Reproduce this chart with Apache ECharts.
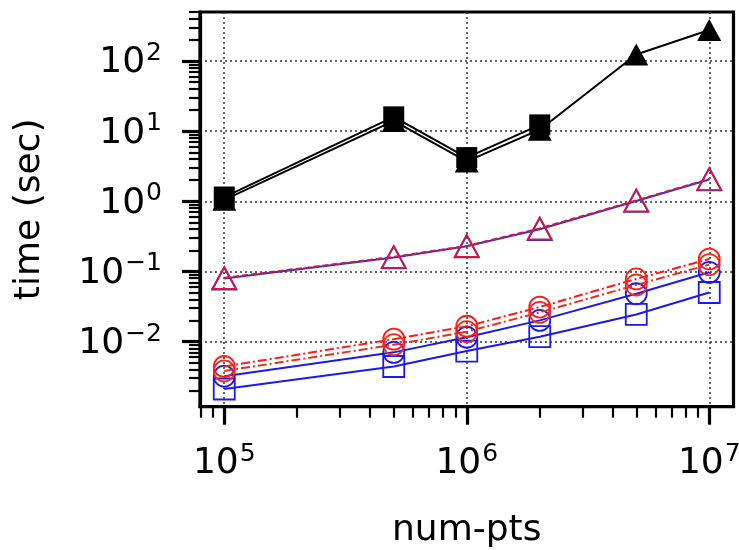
<!DOCTYPE html>
<html>
<head>
<meta charset="utf-8">
<script src="https://cdn.jsdelivr.net/npm/echarts@6/dist/echarts.min.js"></script>
<style>
  html, body { margin: 0; padding: 0; background: #fff; }
  #chart { width: 739px; height: 550px; }
</style>
</head>
<body>
<div id="chart"></div>
<script>
// ---- data ----
const numPts      = [1e5, 5e5, 1e6, 2e6, 5e6, 1e7];
const numPtsShort = [1e5, 5e5, 1e6, 2e6];
const blackSquare   = [1.15, 16.0, 4.2, 12.3];
const blackTriangle = [1.05, 14.0, 3.7, 10.5, 124, 277];
const blueTriangle  = [0.079, 0.158, 0.228, 0.40, 1.01, 2.05];
const redTriangle   = [0.081, 0.161, 0.231, 0.41, 1.03, 2.08];
const redCircleA    = [0.0044, 0.0108, 0.0165, 0.031, 0.078, 0.150];
const redCircleB    = [0.0038, 0.0090, 0.0138, 0.026, 0.064, 0.125];
const blueCircle    = [0.0032, 0.0070, 0.0115, 0.020, 0.048, 0.097];
const blueSquare    = [0.0021, 0.0044, 0.0073, 0.0117, 0.0243, 0.050];
const xTickExps = [5, 6, 7];
const yTickExps = [-2, -1, 0, 1, 2];
const xRange = [4.9, 7.1];
const yRange = [-2.93, 2.70];

// ---- helpers ----
const lg = Math.log10;
function pairs(xs, ys) { return ys.map((y, i) => [lg(xs[i]), lg(y)]); }
function minorTicks(lo, hi) {
  const out = [];
  for (let e = Math.floor(lo) - 1; e <= Math.ceil(hi); e++) {
    for (let k = 2; k <= 9; k++) {
      const v = e + lg(k);
      if (v >= lo && v <= hi) out.push(v);
    }
  }
  return out;
}
function supLabel(v) {
  const e = Math.round(v);
  return '{b|10}{s|' + (e < 0 ? '\u2212' + (-e) : e) + '}';
}
const FONT = 'DejaVu Sans';
const richLbl = {
  b: { fontSize: 36, fontFamily: FONT, color: '#000', lineHeight: 40, verticalAlign: 'bottom' },
  s: { fontSize: 25, fontFamily: FONT, color: '#000', lineHeight: 26, verticalAlign: 'top', padding: [0, 0, 0, 1] }
};
const gridLine = { show: true, lineStyle: { color: '#333', width: 1.5, type: [2, 3] } };

const chart = echarts.init(document.getElementById('chart'), null, { renderer: 'canvas' });

function lineSeries(name, xs, ys, color, lineType, symbol, filled, z) {
  return {
    name, type: 'line', xAxisIndex: 0, yAxisIndex: 0,
    data: pairs(xs, ys),
    symbol, symbolSize: symbol === 'triangle' ? [24, 22] : 21,
    showSymbol: true,
    lineStyle: { color, width: 2, type: lineType },
    itemStyle: filled ? { color, borderWidth: 0 } : { color: 'rgba(0,0,0,0)', borderColor: color, borderWidth: 1.8 },
    emphasis: { disabled: true },
    animation: false,
    z
  };
}

const option = {
  animation: false,
  grid: { left: 200, right: 5.5, top: 12, bottom: 143.3, show: true, borderColor: '#000', borderWidth: 3.2, outerBoundsMode: 'none' },
  xAxis: [
    {
      type: 'value', min: xRange[0], max: xRange[1], position: 'bottom',
      axisLine: { show: true, onZero: false, lineStyle: { color: '#000', width: 3.2 } },
      axisTick: { show: true, customValues: xTickExps, length: 18, lineStyle: { color: '#000', width: 3.2 } },
      axisLabel: { show: true, customValues: xTickExps, formatter: supLabel, rich: richLbl, margin: 35 },
      splitLine: gridLine,
      name: 'num-pts', nameLocation: 'middle', nameGap: 106,
      nameTextStyle: { fontSize: 36, fontFamily: FONT, color: '#000' }
    },
    {
      type: 'value', min: xRange[0], max: xRange[1], position: 'bottom', offset: 0,
      axisLine: { show: false, onZero: false },
      axisTick: { show: true, customValues: minorTicks(xRange[0], xRange[1]), length: 11, lineStyle: { color: '#000', width: 2.2 } },
      axisLabel: { show: false }, splitLine: { show: false }
    }
  ],
  yAxis: [
    {
      type: 'value', min: yRange[0], max: yRange[1], position: 'left',
      axisLine: { show: true, onZero: false, lineStyle: { color: '#000', width: 3.2 } },
      axisTick: { show: true, customValues: yTickExps, length: 18, lineStyle: { color: '#000', width: 3.2 } },
      axisLabel: { show: true, customValues: yTickExps, formatter: supLabel, rich: richLbl, margin: 38 },
      splitLine: gridLine,
      name: 'time (sec)', nameLocation: 'middle', nameGap: 152, nameRotate: 90,
      nameTextStyle: { fontSize: 36, fontFamily: FONT, color: '#000' }
    },
    {
      type: 'value', min: yRange[0], max: yRange[1], position: 'left', offset: 0,
      axisLine: { show: false, onZero: false },
      axisTick: { show: true, customValues: minorTicks(yRange[0], yRange[1]), length: 11, lineStyle: { color: '#000', width: 2.2 } },
      axisLabel: { show: false }, splitLine: { show: false }
    }
  ],
  series: [
    lineSeries('black-tri', numPts, blackTriangle, '#000', 'solid', 'triangle', true, 2),
    lineSeries('black-sq', numPtsShort, blackSquare, '#000', 'solid', 'rect', true, 3),
    lineSeries('blue-sq', numPts, blueSquare, '#1a1aee', 'solid', 'rect', false, 4),
    lineSeries('blue-circ', numPts, blueCircle, '#1a1aee', 'solid', 'circle', false, 5),
    lineSeries('blue-tri', numPts, blueTriangle, '#3030d0', 'solid', 'triangle', false, 6),
    lineSeries('red-tri', numPts, redTriangle, '#d41840', [6, 3], 'triangle', false, 7),
    lineSeries('red-circ-b', numPts, redCircleB, '#e8301a', [9, 3, 2, 3], 'circle', false, 8),
    lineSeries('red-circ-a', numPts, redCircleA, '#ff1a1a', [9, 3, 2, 3], 'circle', false, 9)
  ]
};
chart.setOption(option);
</script>
</body>
</html>
